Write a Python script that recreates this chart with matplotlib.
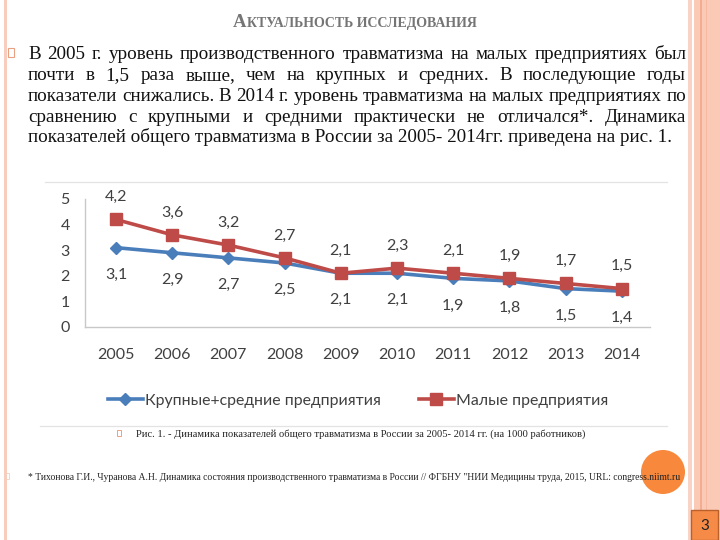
import matplotlib
matplotlib.use('Agg')
import matplotlib.pyplot as plt
from matplotlib.patches import Rectangle, Ellipse
from matplotlib.lines import Line2D

W, H = 720, 540

# ---------------- data ----------------
years = ['2005', '2006', '2007', '2008', '2009', '2010', '2011', '2012', '2013', '2014']
large_medium = [3.1, 2.9, 2.7, 2.5, 2.1, 2.1, 1.9, 1.8, 1.5, 1.4]
small_ent = [4.2, 3.6, 3.2, 2.7, 2.1, 2.3, 2.1, 1.9, 1.7, 1.5]
yticks = [0, 1, 2, 3, 4, 5]
series_labels = ['Крупные+средние предприятия', 'Малые предприятия']

title_first = 'А'
title_rest = 'КТУАЛЬНОСТЬ ИССЛЕДОВАНИЯ'
body_lines = [
    'В 2005 г. уровень производственного травматизма на малых предприятиях был',
    'почти в 1,5 раза выше, чем на крупных и средних. В последующие годы',
    'показатели снижались. В 2014 г. уровень травматизма на малых предприятиях по',
    'сравнению с крупными и средними практически не отличался*. Динамика',
    'показателей общего травматизма в России за 2005- 2014гг. приведена на рис. 1.',
]
caption = 'Рис. 1. - Динамика показателей общего травматизма в России за 2005- 2014 гг. (на 1000 работников)'
footnote = ('* Тихонова Г.И., Чуранова А.Н. Динамика состояния производственного травматизма в России '
            '// ФГБНУ "НИИ Медицины труда, 2015, URL: congress.niimt.ru')
page_number = '3'

# ---------------- figure ----------------
fig = plt.figure(figsize=(7.2, 5.4), dpi=100)
fig.patch.set_facecolor('white')
renderer = fig.canvas.get_renderer()


def fx(x):
    return x / W


def fy(y):
    return 1 - y / H


def rect(x, y, w, h, **kw):
    fig.patches.append(Rectangle((fx(x), fy(y + h)), w / W, h / H,
                                 transform=fig.transFigure, figure=fig, **kw))


def width_of(t):
    return t.get_window_extent(renderer).width


SERIF = ['Liberation Serif', 'DejaVu Serif']
SANS = ['Lato', 'DejaVu Sans']

# borders
rect(4, 0, 3, H, facecolor='#f8cdbd', edgecolor='none')
rect(688, 0, 4, H, facecolor='#f9d3c6', edgecolor='none')
rect(694, 0, 26, H, facecolor='#fbcab6', edgecolor='none')
rect(700, 0, 1.5, H, facecolor='#f3ab92', edgecolor='none')
rect(706, 0, 1.2, H, facecolor='#f6b9a2', edgecolor='none')

# title (small caps imitation)
tcol = '#757575'
t1 = fig.text(0, fy(27), title_first, fontsize=13.5, family=SERIF, weight='bold', color=tcol, va='baseline')
t2 = fig.text(0, fy(27), title_rest, fontsize=10, family=SERIF, weight='bold', color=tcol, va='baseline')
w1, w2 = width_of(t1), width_of(t2)
x0 = 355 - (w1 + w2) / 2
t1.set_x(fx(x0))
t2.set_x(fx(x0 + w1 + 0.5))


def place_line(line, xl, xr, ybase, size, family, color):
    words = line.split(' ')
    objs = [fig.text(0, fy(ybase), w, fontsize=size, family=family, color=color,
                     va='baseline', ha='left', zorder=5) for w in words]
    widths = [width_of(o) for o in objs]
    gap = (xr - xl - sum(widths)) / (len(words) - 1)
    x = xl
    for o, w in zip(objs, widths):
        o.set_x(fx(x))
        x += w + gap


def fit_size(text, target, family, base=10):
    t = fig.text(0, 0, text, fontsize=base, family=family)
    w = width_of(t)
    t.remove()
    return base * target / w


body_size = fit_size(body_lines[4], 677 - 28, SERIF)
bases = [59, 80, 101, 122, 142]
for line, yb in zip(body_lines[:4], bases[:4]):
    place_line(line, 28, 686, yb, body_size, SERIF, '#111111')
fig.text(fx(28), fy(bases[4]), body_lines[4], fontsize=body_size, family=SERIF,
         color='#111111', va='baseline')

# bullets
rect(8, 48, 6, 9, facecolor='none', edgecolor='#e9a184', linewidth=0.8)
rect(117, 430, 4, 6, facecolor='none', edgecolor='#e9a184', linewidth=0.7)
rect(6, 473, 3, 6, facecolor='none', edgecolor='#f3d0c2', linewidth=0.6)

# separator lines around chart
fig.add_artist(Line2D([fx(45), fx(667)], [fy(182), fy(182)], color='#e3e3e3', lw=0.9))
fig.add_artist(Line2D([fx(40), fx(667)], [fy(426), fy(426)], color='#e3e3e3', lw=0.9))

# ---------------- chart ----------------
ax = fig.add_axes([fx(85), fy(327), (650 - 85) / W, (327 - 199) / H])
ax.set_facecolor('none')
idx = list(range(len(years)))
blue = '#4a7ebb'
red = '#be4b48'
lab_col = '#404040'
ax.plot(idx, large_medium, color=blue, lw=2.6, marker='D', markersize=6.5,
        markerfacecolor=blue, markeredgecolor=blue, zorder=3)
ax.plot(idx, small_ent, color=red, lw=2.6, marker='s', markersize=9,
        markerfacecolor=red, markeredgecolor=red, zorder=4)
for i, v in enumerate(small_ent):
    ax.annotate(f'{v:.1f}'.replace('.', ','), (i, v), xytext=(0, 16), textcoords='offset points',
                ha='center', va='center', fontsize=11.5, family=SANS, color=lab_col)
for i, v in enumerate(large_medium):
    ax.annotate(f'{v:.1f}'.replace('.', ','), (i, v), xytext=(0, -19.5), textcoords='offset points',
                ha='center', va='center', fontsize=11.5, family=SANS, color=lab_col)

ax.set_xlim(-0.55, 9.5)
ax.set_ylim(0, 5)
ax.set_xticks(idx)
ax.set_xticklabels(years, fontsize=11.5, family=SANS, color=lab_col)
ax.set_yticks(yticks)
ax.set_yticklabels([str(t) for t in yticks], fontsize=11.5, family=SANS, color=lab_col)
ax.tick_params(axis='both', length=0)
ax.tick_params(axis='x', pad=15)
ax.tick_params(axis='y', pad=11)
for s in ['top', 'right']:
    ax.spines[s].set_visible(False)
for s in ['left', 'bottom']:
    ax.spines[s].set_color('#c8c8c8')
    ax.spines[s].set_linewidth(1.0)

# legend handles (smaller markers than in plot)
h1 = Line2D([], [], color=blue, lw=2.6, marker='D', markersize=6, markerfacecolor=blue, markeredgecolor=blue)
h2 = Line2D([], [], color=red, lw=2.6, marker='s', markersize=8, markerfacecolor=red, markeredgecolor=red)
fig.legend([h1, h2], series_labels, loc='center', bbox_to_anchor=(fx(358), fy(401)), ncol=2, frameon=False,
           prop={'family': SANS, 'size': 11.4}, handlelength=2.2, handletextpad=0.15,
           columnspacing=2.4, labelcolor='#404040', borderpad=0)

# caption and footnote
cap_size = fit_size(caption, 582 - 136, SERIF)
fig.text(fx(136), fy(437), caption, fontsize=cap_size, family=SERIF, color='#222222', va='baseline')
fn_size = fit_size(footnote, 684 - 28, SERIF)
fig.text(fx(28), fy(480), footnote, fontsize=fn_size, family=SERIF, color='#222222', va='baseline', zorder=6)

# decorative circle and page number
fig.patches.append(Ellipse((fx(663), fy(472)), 44 / W, 44 / H, transform=fig.transFigure, figure=fig,
                           facecolor='#f7883c', edgecolor='none', zorder=2))
rect(691, 510, 27, 30, facecolor='#f68b48', edgecolor='#b9602c', linewidth=1.0)
fig.text(fx(704.5), fy(526), page_number, fontsize=11, family=SANS, color='#222222', ha='center', va='center')

fig.savefig('out.png', dpi=100, facecolor='white')
